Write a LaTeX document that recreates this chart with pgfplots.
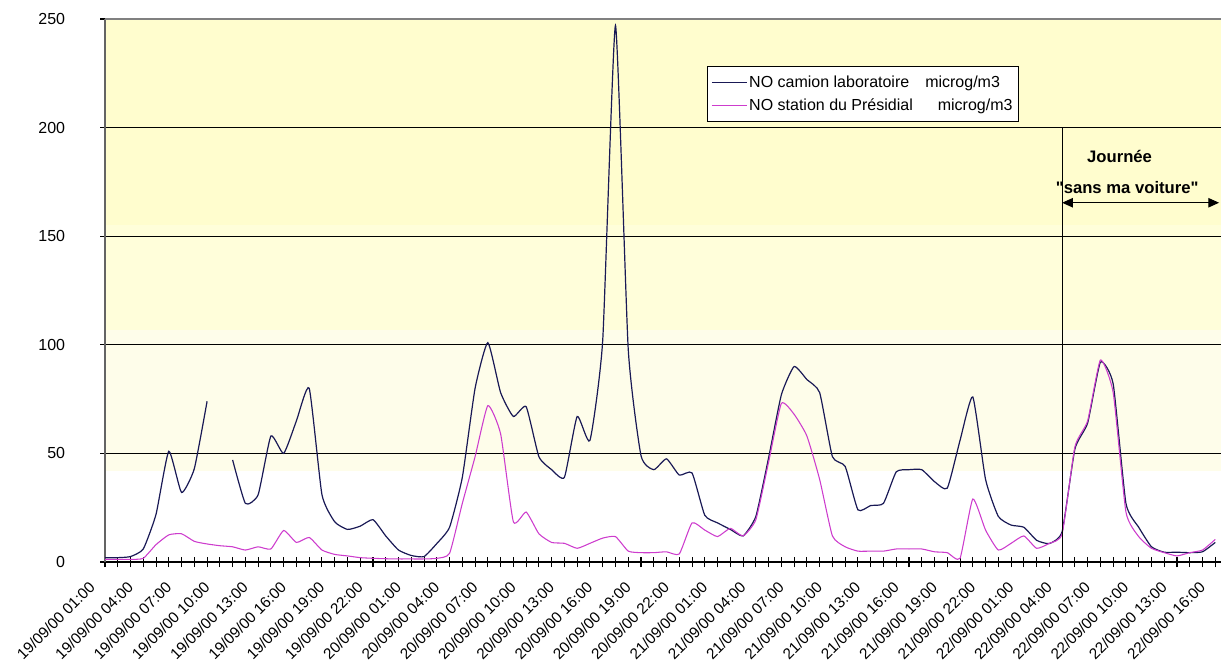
\documentclass[border=0pt]{standalone}
\usepackage{fontspec}
\setmainfont{Liberation Sans}
\usepackage{pgfplots}
\pgfplotsset{compat=1.18}
\usepackage{pgfplotstable}
\usetikzlibrary{arrows.meta}

\definecolor{camion}{RGB}{25,25,85}
\definecolor{presid}{RGB}{205,60,205}
\definecolor{bandA}{RGB}{255,253,206}
\definecolor{bandB}{RGB}{255,254,218}
\definecolor{bandC}{RGB}{254,253,234}
\definecolor{leftax}{RGB}{100,100,100}

\pgfplotstableread{
i cam pres
0 2 1.2
1 2 1.2
2 2.5 1.2
3 6 1.7
4 22 8
5 51 12.5
6 32 13
7 43 9.5
8 74 8.3
9 nan 7.5
10 47 7
11 27 5.5
12 31 7
13 58 6
14 50 14.5
15 65 9
16 80 11.3
17 31 5.5
18 18.5 3.5
19 15 2.8
20 16.5 2
21 19.5 1.7
22 12 1.5
23 5.5 1.4
24 3 1.4
25 2.5 1.4
26 8.5 1.7
27 16 4
28 39 27
29 80 48.5
30 101 72
31 78 59
32 67 18.5
33 71.5 23
34 48.5 13
35 42.5 9
36 39 8.6
37 67 6.3
38 56 8.6
39 102 11
40 247 11.7
41 98 5
42 49 4.3
43 42.5 4.3
44 47.5 4.7
45 40 3.7
46 41 18
47 21.5 14.7
48 18 11.7
49 15 15.5
50 12 12
51 21 19.5
52 48 46
53 77 73
54 90 68
55 84 58
56 78 38
57 48.5 12
58 44 7
59 24 5
60 26 5
61 27 5
62 41.5 6
63 42.5 6
64 42.5 6
65 37 4.7
66 34 4.3
67 56 1.7
68 76 29
69 38 14.7
70 21 5.5
71 17 8.6
72 16 12
73 10 6.3
74 8.5 8.6
75 14 13
76 52 53
77 64 65
78 92 93
79 82 78
80 27 23
81 16 11.7
82 7 6.3
83 4.5 4.3
84 4.5 2.8
85 4.3 4.3
86 4.7 5.5
87 9 10.4
}\data

\begin{document}
\begin{tikzpicture}
\begin{axis}[
  set layers,
  scale only axis,
  width=837pt, height=407.25pt,
  xmin=0, xmax=87.45, ymin=0, ymax=250,
  clip mode=individual,
  unbounded coords=jump,
  axis x line*=bottom, axis y line*=left,
  x axis line style={black, line width=0.8pt},
  y axis line style={leftax, line width=1.1pt},
  xtick={0,3,...,87},
  minor xtick={0,...,87},
  ytick={0,50,...,250},
  tick align=center,
  major tick length=7.5pt, minor tick length=7.5pt,
  tick style={black, line width=0.8pt},
  ymajorgrids,
  major grid style={black, line width=0.8pt},
  /pgf/number format/assume math mode=true,
  yticklabel style={font=\fontsize{12}{14}\selectfont, inner sep=0pt, xshift=-26pt, anchor=east},
  xticklabels={19/09/00 01:00,19/09/00 04:00,19/09/00 07:00,19/09/00 10:00,19/09/00 13:00,19/09/00 16:00,19/09/00 19:00,19/09/00 22:00,
    20/09/00 01:00,20/09/00 04:00,20/09/00 07:00,20/09/00 10:00,20/09/00 13:00,20/09/00 16:00,20/09/00 19:00,20/09/00 22:00,
    21/09/00 01:00,21/09/00 04:00,21/09/00 07:00,21/09/00 10:00,21/09/00 13:00,21/09/00 16:00,21/09/00 19:00,21/09/00 22:00,
    22/09/00 01:00,22/09/00 04:00,22/09/00 07:00,22/09/00 10:00,22/09/00 13:00,22/09/00 16:00},
  xticklabel style={font=\fontsize{11.5}{13}\selectfont, inner sep=0pt, xshift=-6.75pt, yshift=-15.75pt, rotate=45, anchor=base east},
  legend style={at={(0.5394,0.9134)}, anchor=north west, draw=black, line width=0.6pt, fill=white,
    font=\fontsize{12}{14}\selectfont, inner xsep=3pt, inner ysep=5.5pt, row sep=3.75pt, nodes={inner sep=1.5pt}},
  legend cell align=left,
  legend image code/.code={\draw[#1] (0pt,0pt) -- (26pt,0pt);},
]
\begin{pgfonlayer}{axis background}
\fill[bandA] (axis cs:0,155) rectangle (axis cs:87.45,250);
\fill[bandB] (axis cs:0,107) rectangle (axis cs:87.45,155);
\fill[bandC] (axis cs:0,42) rectangle (axis cs:87.45,107);
\end{pgfonlayer}
\coordinate (O) at (rel axis cs:0,0);
\draw[gray, line width=0.8pt] (axis cs:0,250) -- (axis cs:87.45,250);

\addplot[camion, line width=0.9pt, smooth, tension=0.3] table[x=i,y=cam]{\data};
\addlegendentry{NO camion laboratoire\hspace{12pt}microg/m3}
\addplot[presid, line width=0.8pt, smooth, tension=0.3] table[x=i,y=pres]{\data};
\addlegendentry{NO station du Présidial\hspace{18.75pt}microg/m3}

\draw[black, line width=0.8pt] (axis cs:75,200) -- (axis cs:75,2.5);
\draw[black, line width=0.8pt, {Triangle[length=8pt,width=7pt]}-{Triangle[length=8pt,width=7pt]}] (axis cs:75,165.4) -- (axis cs:87.3,165.4);
\node[font=\bfseries\fontsize{12.5}{14}\selectfont, anchor=base, inner sep=0pt] at (axis cs:79.5,183.8) {Journée};
\node[font=\bfseries\fontsize{12.5}{14}\selectfont, anchor=base, inner sep=0pt] at (axis cs:80.1,169.7) {\textquotedbl sans ma voiture\textquotedbl};
\end{axis}
\pgfresetboundingbox
\path[use as bounding box] ([shift={(-78.75pt,-76.5pt)}]O) rectangle ([shift={(837pt,421.5pt)}]O);
\end{tikzpicture}
\end{document}
